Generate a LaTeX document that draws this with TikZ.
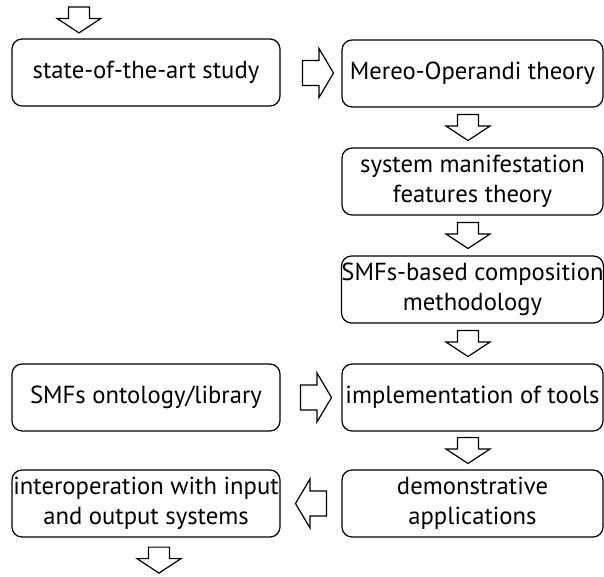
\documentclass[tikz,border=0pt]{standalone}
\usepackage{fontspec}
\setmainfont{PT Sans}
\usetikzlibrary{calc}

\begin{document}
\begin{tikzpicture}[x=0.75pt, y=-0.75pt,
		stage/.style={draw, rounded corners=7.5pt, line width=0.9pt, minimum height=50.25pt, inner sep=0pt, align=center, font=\fontsize{18.5}{22.5}\selectfont},
		leftstage/.style={stage, minimum width=201pt},
		rightstage/.style={stage, minimum width=195.75pt},
		harrow/.pic={\draw[line width=0.9pt] (-15.5,-12.5) -- (1,-12.5) -- (1,-24.5) -- (15.5,0) -- (1,24.5) -- (1,12.5) -- (-15.5,12.5) -- cycle;},
		varrow/.pic={\draw[line width=0.9pt] (-13,-10.5) -- (-1.5,-10.5) -- (-1.5,-22) -- (13,0) -- (-1.5,22) -- (-1.5,10.5) -- (-13,10.5) -- cycle;}]
		\useasboundingbox (0,0) rectangle (604,576);
		% left column
		\node[leftstage] (study) at (146,72.5) {state-of-the-art study};
		\node[leftstage] (ontology) at (146,397.5) {SMFs ontology/library};
		\node[leftstage] (interop) at (146,503.5) {interoperation with input\\and output systems};
		% right column
		\node[rightstage] (mereo) at (472.5,73.5) {Mereo-Operandi theory};
		\node[rightstage] (smf) at (472.5,181.5) {system manifestation\\features theory};
		\node[rightstage] (compose) at (472.5,289.5) {SMFs-based composition\\methodology};
		\node[rightstage] (tools) at (472.5,397.5) {implementation of tools};
		\node[rightstage] (demo) at (472.5,503.5) {demonstrative\\applications};
		% block arrows
		\pic[rotate=-90] at ($(study.north)+(-67,-18.5)$) {varrow};
		\pic at ($(study.east)!0.5!(mereo.west)+(7,0)$) {harrow};
		\pic[rotate=-90] at ($(mereo.south)!0.5!(smf.north)+(-4.5,0)$) {varrow};
		\pic[rotate=-90] at ($(smf.south)!0.5!(compose.north)+(-4.5,0)$) {varrow};
		\pic[rotate=-90] at ($(compose.south)!0.5!(tools.north)+(-4.5,0)$) {varrow};
		\pic at ($(ontology.east)!0.5!(tools.west)+(5,0)$) {harrow};
		\pic[rotate=-90] at ($(tools.south)!0.5!(demo.north)+(-4.5,0)$) {varrow};
		\pic[rotate=180] at ($(demo.west)!0.5!(interop.east)$) {harrow};
		\pic[rotate=-90] at ($(interop.south)+(13,22.5)$) {varrow};
\end{tikzpicture}
\end{document}
